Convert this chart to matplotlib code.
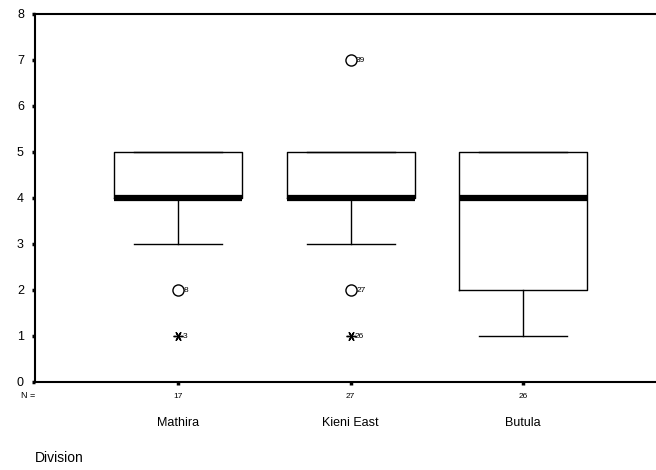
import matplotlib
matplotlib.use("Agg")
import matplotlib.pyplot as plt

plt.rcParams['font.family'] = ['Liberation Sans', 'DejaVu Sans']

categories = ["Mathira", "Kieni East", "Butula"]
n_counts = [17, 27, 26]
q1 = [4, 4, 2]
med = [4, 4, 4]
q3 = [5, 5, 5]
whislo = [3, 3, 1]
whishi = [5, 5, 5]
# outliers (circles) and extremes (asterisks): (category index, value, case label)
outliers = [(0, 2, "8"), (1, 7, "39"), (1, 2, "27")]
extremes = [(0, 1, "3"), (1, 1, "26")]
y_ticks = [0, 1, 2, 3, 4, 5, 6, 7, 8]

fig = plt.figure(figsize=(6.56, 4.70), dpi=100)
ax = fig.add_axes([35/656, 1-382/470, 1-35/656, (382-14)/470])

positions = [1, 2, 3]
stats = []
for i in range(len(categories)):
    stats.append(dict(med=med[i], q1=q1[i], q3=q3[i], whislo=whislo[i],
                      whishi=whishi[i], fliers=[], label=categories[i]))

ax.bxp(stats, positions=positions, widths=0.742, showfliers=False,
       boxprops=dict(color='black', linewidth=1.0),
       medianprops=dict(color='black', linewidth=4.5, solid_capstyle='butt'),
       whiskerprops=dict(color='black', linewidth=1.0),
       capprops=dict(color='black', linewidth=1.0), capwidths=0.51)

for ci, v, lab in outliers:
    ax.plot(positions[ci], v, marker='o', markersize=8, markerfacecolor='none',
            markeredgecolor='black', markeredgewidth=1.0, linestyle='none',
            clip_on=False)
    ax.annotate(lab, (positions[ci], v), xytext=(4, 0), textcoords='offset points',
                fontsize=6, va='center', ha='left')
for ci, v, lab in extremes:
    ax.plot(positions[ci], v, marker=(6, 2, 90), markersize=7,
            markeredgecolor='black', markeredgewidth=1.0, linestyle='none')
    ax.annotate(lab, (positions[ci], v), xytext=(3, 0), textcoords='offset points',
                fontsize=6, va='center', ha='left')

ax.set_xlim(0.171, 3.77)
ax.set_ylim(0, 8)
ax.set_yticks(y_ticks)
ax.set_yticklabels([str(t) for t in y_ticks], fontsize=9)
ax.set_xticks(positions)
ax.set_xticklabels([str(n) for n in n_counts], fontsize=6)
ax.tick_params(axis='both', direction='out', length=2, width=2.5, color='black')
ax.tick_params(axis='y', pad=6)
ax.tick_params(axis='x', pad=6)

for s in ['left', 'bottom', 'top']:
    ax.spines[s].set_linewidth(1.5)
    ax.spines[s].set_color('black')
ax.spines['right'].set_visible(False)

fig.text(28/656, 1-396/470, "N =", fontsize=6.5, ha='center', va='center')
for p, c in zip(positions, categories):
    ax.text(p, -0.095, c, transform=ax.get_xaxis_transform(), fontsize=9,
            ha='center', va='top')
fig.text(35/656, 1-458/470, "Division", fontsize=10, ha='left', va='center')

fig.savefig("out.png", dpi=100)
